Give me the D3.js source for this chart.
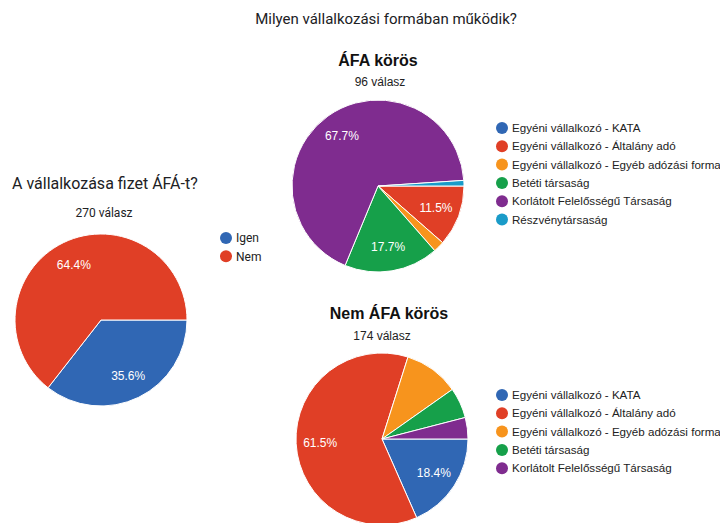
<!DOCTYPE html>
<html>
<head>
<meta charset="utf-8">
<script src="https://cdn.jsdelivr.net/npm/d3@7"></script>
<style>
  body { margin: 0; background: #fff; }
  svg { display: block; }
</style>
</head>
<body>
<div id="chart"></div>
<script>
// Data
const mainTitle = "Milyen vállalkozási formában működik?";

const afaLabels = ["Igen", "Nem"];
const afaCounts = [96, 174];

const formLabels = [
    "Egyéni vállalkozó - KATA",
    "Egyéni vállalkozó - Általány adó",
    "Egyéni vállalkozó - Egyéb adózási forma",
    "Betéti társaság",
    "Korlátolt Felelősségű Társaság",
    "Részvénytársaság"
];
const formColors = ["#3067b4", "#e03f26", "#f7941d", "#16a04a", "#7f2c8f", "#1a9bc8"];
const afaColors = ["#3067b4", "#e03f26"];

const afaKorosCounts = [0, 11, 2, 17, 65, 1];     // 96 válasz
const nemAfaKorosCounts = [32, 107, 18, 10, 7];   // 174 válasz

const width = 720, height = 523;

const svg = d3.select("#chart")
    .append("svg")
    .attr("width", width)
    .attr("height", height);

svg.append("text")
    .attr("x", 386)
    .attr("y", 24)
    .attr("text-anchor", "middle")
    .style("font-family", "Roboto, sans-serif")
    .style("font-size", "15px")
    .style("fill", "#202124")
    .text(mainTitle);

// draws one pie with percent labels and legend
function drawPie({ cx, cy, r, values, colors, labels, legendX, legendY, legendFont, legendSize = "12px", labelMin = 0.11 }) {
    const total = d3.sum(values);
    const pie = d3.pie()
        .sort(null)
        .startAngle(Math.PI / 2)
        .endAngle(Math.PI / 2 + 2 * Math.PI);
    const arcs = pie(values);
    const arc = d3.arc().innerRadius(0).outerRadius(r);
    const labelArc = d3.arc().innerRadius(r * 0.72).outerRadius(r * 0.72);

    const g = svg.append("g").attr("transform", `translate(${cx},${cy})`);

    g.selectAll("path")
        .data(arcs)
        .join("path")
        .attr("d", arc)
        .attr("fill", (d, i) => colors[i])
        .attr("stroke", "#fff")
        .attr("stroke-width", 1);

    g.selectAll("text")
        .data(arcs.filter(d => d.value / total >= labelMin))
        .join("text")
        .attr("transform", d => `translate(${labelArc.centroid(d)})`)
        .attr("text-anchor", "middle")
        .attr("dy", "0.35em")
        .style("font-family", "Arial, 'Liberation Sans', sans-serif")
        .style("font-size", "12px")
        .style("fill", "#fff")
        .text(d => (d.value / total * 100).toFixed(1) + "%");

    const legend = svg.append("g")
        .attr("transform", `translate(${legendX},${legendY})`);
    const rows = legend.selectAll("g")
        .data(labels)
        .join("g")
        .attr("transform", (d, i) => `translate(0,${i * 18.3})`);
    rows.append("circle")
        .attr("r", 6)
        .attr("fill", (d, i) => colors[i]);
    rows.append("text")
        .attr("x", 10)
        .attr("dy", "0.35em")
        .style("font-family", legendFont)
        .style("font-size", legendSize)
        .style("fill", "#222")
        .text(d => d);
}

// Left chart
svg.append("text")
    .attr("x", 12)
    .attr("y", 189)
    .style("font-family", "Roboto, sans-serif")
    .style("font-size", "16px")
    .style("fill", "#202124")
    .text("A vállalkozása fizet ÁFÁ-t?");
svg.append("text")
    .attr("x", 104)
    .attr("y", 217)
    .attr("text-anchor", "middle")
    .style("font-family", "Roboto, sans-serif")
    .style("font-size", "12px")
    .style("fill", "#202124")
    .text(afaCounts.reduce((a, b) => a + b) + " válasz");

drawPie({
    cx: 101, cy: 320, r: 86,
    values: afaCounts, colors: afaColors, labels: afaLabels,
    legendX: 226, legendY: 238, legendFont: "Roboto, sans-serif"
});

// Top right chart
svg.append("text")
    .attr("x", 378)
    .attr("y", 66)
    .attr("text-anchor", "middle")
    .style("font-family", "Arial, 'Liberation Sans', sans-serif")
    .style("font-size", "16px")
    .style("font-weight", "bold")
    .style("fill", "#111")
    .text("ÁFA körös");
svg.append("text")
    .attr("x", 380)
    .attr("y", 86)
    .attr("text-anchor", "middle")
    .style("font-family", "Arial, 'Liberation Sans', sans-serif")
    .style("font-size", "12px")
    .style("fill", "#222")
    .text(d3.sum(afaKorosCounts) + " válasz");

drawPie({
    cx: 378, cy: 186, r: 86,
    values: afaKorosCounts, colors: formColors, labels: formLabels,
    legendX: 502, legendY: 128, legendFont: "Arial, 'Liberation Sans', sans-serif", legendSize: "11.6px"
});

// Bottom right chart
svg.append("text")
    .attr("x", 389)
    .attr("y", 319)
    .attr("text-anchor", "middle")
    .style("font-family", "Arial, 'Liberation Sans', sans-serif")
    .style("font-size", "16px")
    .style("font-weight", "bold")
    .style("fill", "#111")
    .text("Nem ÁFA körös");
svg.append("text")
    .attr("x", 382)
    .attr("y", 340)
    .attr("text-anchor", "middle")
    .style("font-family", "Arial, 'Liberation Sans', sans-serif")
    .style("font-size", "12px")
    .style("fill", "#222")
    .text(d3.sum(nemAfaKorosCounts) + " válasz");

drawPie({
    cx: 382, cy: 439, r: 86,
    values: nemAfaKorosCounts, colors: formColors.slice(0, 5), labels: formLabels.slice(0, 5),
    legendX: 502, legendY: 395, legendFont: "Arial, 'Liberation Sans', sans-serif", legendSize: "11.6px"
});
</script>
</body>
</html>
